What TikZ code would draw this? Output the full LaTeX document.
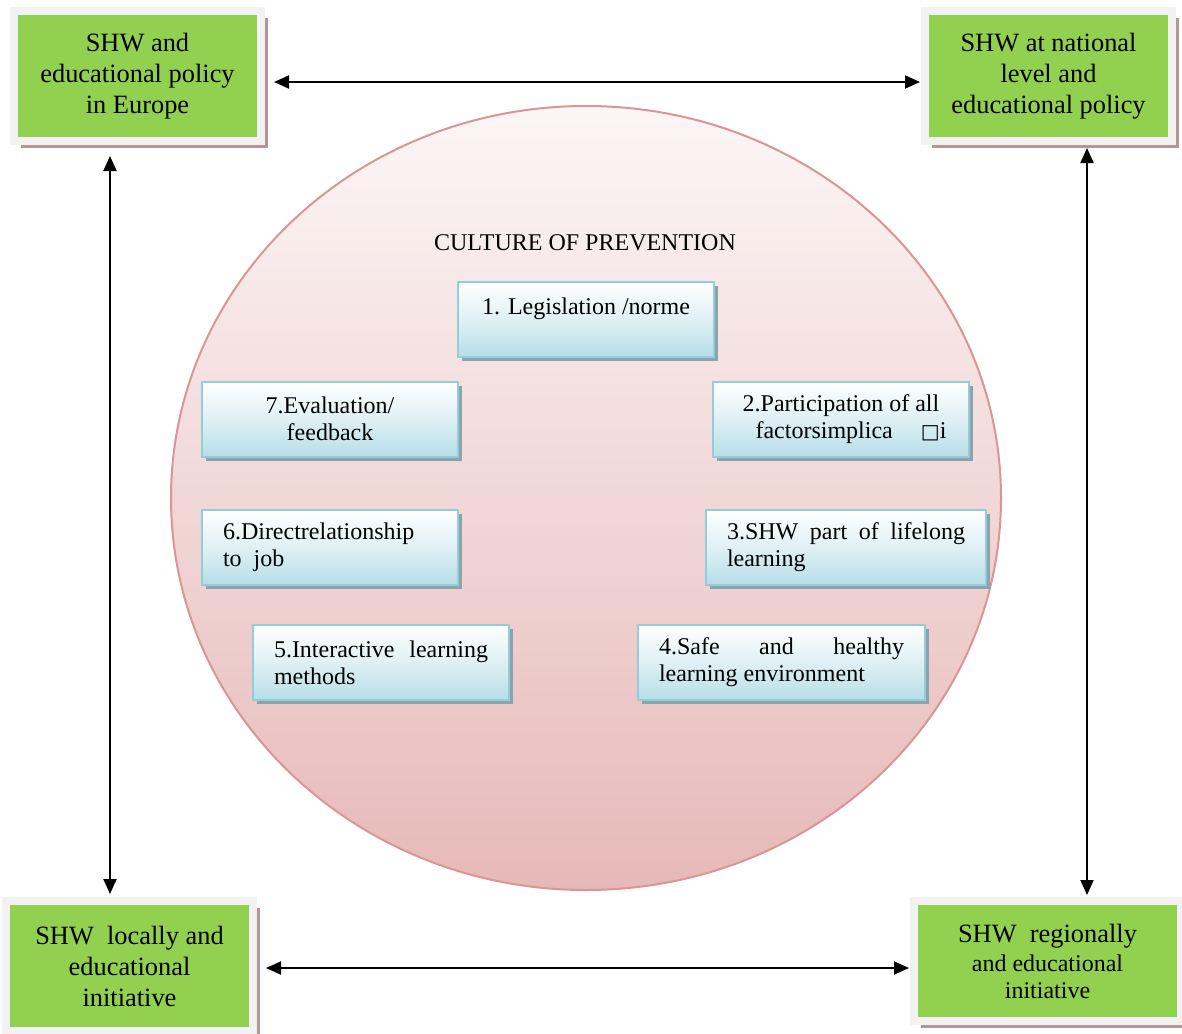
\documentclass[tikz,border=0pt]{standalone}
\usepackage{fontspec}
\setmainfont{Liberation Serif}
\newfontfamily\symfont{DejaVu Sans}
\usepackage{xcolor}
\usetikzlibrary{calc,arrows.meta,shadows}
\definecolor{leafc}{HTML}{92D050}
\definecolor{framec}{HTML}{F2F2F2}
\definecolor{brownsh}{HTML}{B59696}
\definecolor{rosec}{HTML}{D99694}
\definecolor{rosetop}{HTML}{FCF6F6}
\definecolor{rosebot}{HTML}{E6B9B8}
\definecolor{skyc}{HTML}{92CDDC}
\definecolor{skybot}{HTML}{B7DEE8}
\definecolor{slatesh}{HTML}{8DA3AC}
\tikzset{
  ar/.style={{Triangle[length=7.5pt,width=6.5pt]}-{Triangle[length=7.5pt,width=6.5pt]},line width=1pt,black},
  policy/.style={draw=framec,line width=4pt,fill=leafc,align=center,inner sep=0pt,
    minimum width=123.5pt,minimum height=65pt,font=\fontsize{13.2}{15.5}\selectfont,
    drop shadow={shadow xshift=3.5pt,shadow yshift=-3.5pt,fill=brownsh,opacity=1}},
  pillar/.style={draw=skyc,line width=1pt,top color=white,bottom color=skybot,middle color=white!55!skybot,
    inner xsep=10.5pt,inner ysep=0pt,minimum width=128pt,minimum height=37.5pt,
    font=\fontsize{12}{13.5}\selectfont,
    drop shadow={shadow xshift=2pt,shadow yshift=-2pt,fill=slatesh,opacity=1}}
}
\newcommand{\spread}[2]{\makebox[#1][s]{#2}}
\begin{document}
\begin{tikzpicture}[x=0.5pt,y=-0.5pt]
\useasboundingbox[fill=white] (0,0) rectangle (1182,1033);
% culture of prevention
\draw[rosec,line width=1pt,top color=rosetop,bottom color=rosebot] (586,498) ellipse [x radius=415,y radius=392];
\node[font=\fontsize{12}{14}\selectfont] (title) at (585,243) {CULTURE OF PREVENTION};
% corner boxes
\node[policy] (tl) at (137.5,76) {SHW and\\educational policy\\in Europe};
\node[policy] (tr) at (1048.5,76) {SHW at national\\level and\\educational policy};
\node[policy] (bl) at (129.5,966) {SHW\ \ locally and\\educational\\initiative};
\node[policy,minimum width=133.5pt,minimum height=60pt] (br) at (1047.5,961)
  {SHW\ \ regionally\\[-1pt]{\fontsize{12}{14}\selectfont and educational}\\[-2pt]{\fontsize{12}{14}\selectfont initiative}};
% the seven pillars
\node[pillar,align=center] (p1) at (586,319.5) {1. Legislation /norme\\\mbox{}};
\node[pillar,align=center] (p7) at (330,419) {7.Evaluation/\\feedback};
\node[pillar,align=center] (p2) at (841,419) {2.Participation of all\\\hspace{10pt}factorsimplica\hspace{14pt}{\symfont\fontsize{10}{13.5}\selectfont □}i};
\node[pillar,align=left] (p6) at (330,547.5) {\spread{107pt}{6.Directrelationship}\\to\ \ job};
\node[pillar,align=left,minimum width=140pt] (p3) at (846,547.5) {\spread{119pt}{3.SHW part of lifelong}\\learning};
\node[pillar,align=left] (p5) at (381,662.5) {\spread{107pt}{5.Interactive learning}\\methods};
\node[pillar,align=left,minimum width=143.5pt] (p4) at (781.5,662.5) {\spread{122.5pt}{4.Safe and healthy}\\learning environment};
% links
\draw[ar] ($(tl.east)+(9,6)$) -- ($(tr.west)+(-1,6)$);
\draw[ar] ($(tl.south)+(-27.5,11)$) -- ($(bl.north)+(-19.5,-3)$);
\draw[ar] ($(tr.south)+(38.5,3)$) -- ($(br.north)+(39.5,-2)$);
\draw[ar] ($(bl.east)+(9,2)$) -- ($(br.west)+(-1,7)$);
\end{tikzpicture}
\end{document}
